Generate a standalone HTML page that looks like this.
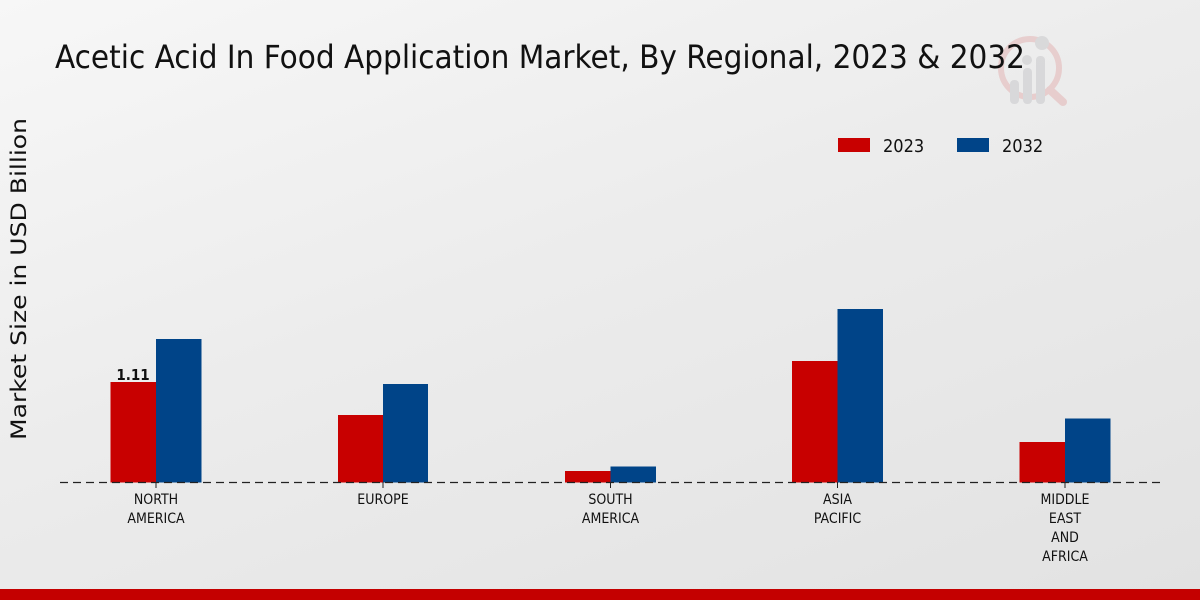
<!DOCTYPE html>
<html>
<head>
<meta charset="utf-8">
<style>
html,body{margin:0;padding:0;width:1200px;height:600px;overflow:hidden;}
body{background:linear-gradient(160deg,#f7f7f7 0%,#ececec 45%,#e2e2e2 100%);}
svg{display:block;}
text{font-family:"DejaVu Sans Condensed","DejaVu Sans","Liberation Sans",sans-serif;}
</style>
</head>
<body>
<svg width="1200" height="600" viewBox="0 0 1200 600" xmlns="http://www.w3.org/2000/svg">
  <!-- logo watermark -->
  <g opacity="0.55">
    <circle cx="1030" cy="68" r="29" fill="none" stroke="#e3b5b5" stroke-width="6"/>
    <line x1="1050" y1="90" x2="1063" y2="102" stroke="#e3b5b5" stroke-width="8" stroke-linecap="round"/>
    <rect x="1010" y="80" width="9" height="24" rx="4" fill="#c9c9cc"/>
    <rect x="1023" y="68" width="9" height="36" rx="4" fill="#c9c9cc"/>
    <rect x="1036" y="56" width="9" height="48" rx="4" fill="#c9c9cc"/>
    <circle cx="1042" cy="43" r="7" fill="#c9c9cc"/>
    <circle cx="1027" cy="60" r="5" fill="#c9c9cc"/>
  </g>

  <!-- title -->
  <text x="55" y="68" font-size="32" fill="#111" textLength="970" lengthAdjust="spacingAndGlyphs">Acetic Acid In Food Application Market, By Regional, 2023 &amp; 2032</text>

  <!-- y axis label -->
  <text transform="translate(26,279) rotate(-90)" text-anchor="middle" font-size="21" fill="#111" style='font-family:"DejaVu Sans","Liberation Sans",sans-serif' textLength="322" lengthAdjust="spacingAndGlyphs">Market Size in USD Billion</text>

  <!-- legend -->
  <rect x="838" y="138" width="32" height="14" fill="#c80000"/>
  <text x="883" y="152" font-size="18" fill="#111">2023</text>
  <rect x="957" y="138" width="32" height="14" fill="#004488"/>
  <text x="1002" y="152" font-size="18" fill="#111">2032</text>

  <!-- bars -->
  <g>
    <rect x="110.5" y="382" width="45.5" height="100.5" fill="#c80000"/>
    <rect x="156" y="339" width="45.5" height="143.5" fill="#004488"/>

    <rect x="338" y="415" width="45" height="67.5" fill="#c80000"/>
    <rect x="383" y="384" width="45" height="98.5" fill="#004488"/>

    <rect x="565" y="471" width="45.5" height="11.5" fill="#c80000"/>
    <rect x="610.5" y="466.5" width="45.5" height="16" fill="#004488"/>

    <rect x="792" y="361" width="45.5" height="121.5" fill="#c80000"/>
    <rect x="837.5" y="309" width="45.5" height="173.5" fill="#004488"/>

    <rect x="1019.5" y="442" width="45.5" height="40.5" fill="#c80000"/>
    <rect x="1065" y="418.5" width="45.5" height="64" fill="#004488"/>
  </g>

  <!-- value label -->
  <text x="133" y="380" text-anchor="middle" font-size="15" font-weight="bold" fill="#111">1.11</text>

  <!-- baseline dashed -->
  <line x1="60" y1="482.5" x2="1160" y2="482.5" stroke="#222" stroke-width="1.2" stroke-dasharray="8,5"/>
  <g stroke="#222" stroke-width="1">
    <line x1="156" y1="482" x2="156" y2="488"/>
    <line x1="383" y1="482" x2="383" y2="488"/>
    <line x1="610.5" y1="482" x2="610.5" y2="488"/>
    <line x1="837.5" y1="482" x2="837.5" y2="488"/>
    <line x1="1065" y1="482" x2="1065" y2="488"/>
  </g>

  <!-- category labels -->
  <g font-size="14" fill="#111" text-anchor="middle">
    <text x="156" y="504">NORTH</text>
    <text x="156" y="523">AMERICA</text>
    <text x="383" y="504">EUROPE</text>
    <text x="610.5" y="504">SOUTH</text>
    <text x="610.5" y="523">AMERICA</text>
    <text x="837.5" y="504">ASIA</text>
    <text x="837.5" y="523">PACIFIC</text>
    <text x="1065" y="504">MIDDLE</text>
    <text x="1065" y="523">EAST</text>
    <text x="1065" y="542">AND</text>
    <text x="1065" y="561">AFRICA</text>
  </g>

  <!-- bottom red band -->
  <rect x="0" y="589" width="1200" height="11" fill="#c40000"/>
</svg>
</body>
</html>
